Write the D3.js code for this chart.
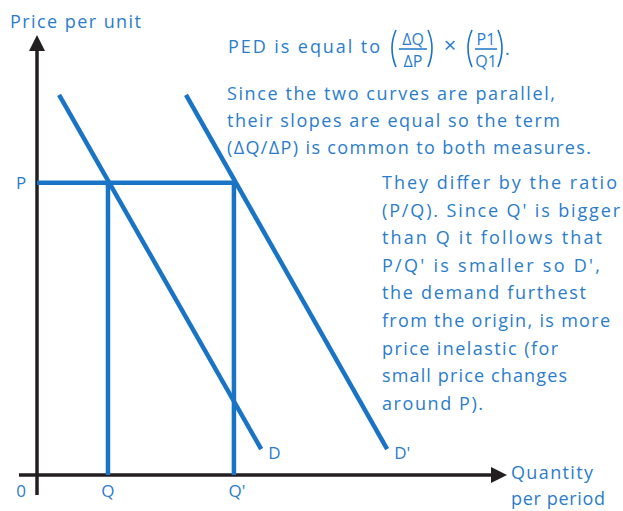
<!DOCTYPE html>
<html>
<head>
<meta charset="utf-8">
<script src="https://cdn.jsdelivr.net/npm/d3@7"></script>
<style>
  body { margin: 0; background: #fff; }
  svg text { font-family: "Open Sans", "DejaVu Sans", sans-serif; fill: #2a7dcc; }
</style>
</head>
<body>
<svg id="chart" width="623" height="511"></svg>
<script>
// demand curves, in chart units (quantity, price)
const curveNames = ['D', "D'"];
const curveD = [[4.7, 86.4], [47.7, 5.9]];
const curveD2 = [[31.7, 86.4], [74.5, 5.9]];
const priceP = 66.4;
const qtyValues = [15.1, 41.9];
const qtyLabels = ['Q', "Q'"];

const leftNotes = [
  'Since the two curves are parallel,',
  'their slopes are equal so the term',
  '(\u0394Q/\u0394P) is common to both measures.'
];
const leftEnds = [555, 560, 591];
const rightNotes = [
  'They differ by the ratio',
  "(P/Q). Since Q' is bigger",
  'than Q it follows that',
  "P/Q' is smaller so D',",
  'the demand furthest',
  'from the origin, is more',
  'price inelastic (for',
  'small price changes',
  'around P).'
];
const rightEnds = [617, 620, 602, 600, 586, 610, 558, 567, 483];

const blue = '#1a74c6';
const ink = '#231f20';

const svg = d3.select('#chart');
const x = d3.scaleLinear().domain([0, 100]).range([37, 507]);
const y = d3.scaleLinear().domain([0, 100]).range([475, 35]);

// axes with arrow heads
svg.append('line')
  .attr('x1', x(0)).attr('y1', y(0) + 20).attr('x2', x(0)).attr('y2', y(100) + 14)
  .attr('stroke', ink).attr('stroke-width', 3.5);
svg.append('path')
  .attr('d', `M${x(0)},${y(100)} L${x(0) - 8},${y(100) + 16} L${x(0) + 8},${y(100) + 16}Z`)
  .attr('fill', ink);
svg.append('line')
  .attr('x1', x(0) - 18).attr('y1', y(0)).attr('x2', x(100) - 14).attr('y2', y(0))
  .attr('stroke', ink).attr('stroke-width', 3.5);
svg.append('path')
  .attr('d', `M${x(100)},${y(0)} L${x(100) - 16},${y(0) - 8} L${x(100) - 16},${y(0) + 8}Z`)
  .attr('fill', ink);

// price P and quantities
const g = svg.append('g').attr('stroke', blue).attr('stroke-width', 4.5).attr('fill', 'none');
g.append('line')
  .attr('x1', x(0)).attr('x2', x(qtyValues[1])).attr('y1', y(priceP)).attr('y2', y(priceP));
g.selectAll('.qline')
  .data(qtyValues)
  .join('line')
  .attr('class', 'qline')
  .attr('x1', d => x(d)).attr('x2', d => x(d))
  .attr('y1', y(priceP)).attr('y2', y(0));

// the two demand curves
const line = d3.line().x(d => x(d[0])).y(d => y(d[1]));
g.selectAll('.curve')
  .data([curveD, curveD2])
  .join('path')
  .attr('class', 'curve')
  .attr('d', line);

// labels
const label = (tx, ty, t, size, anchor) => svg.append('text')
  .attr('x', tx).attr('y', ty).attr('font-size', size)
  .attr('text-anchor', anchor || 'start').text(t);

label(10, 28, 'Price per unit', 18).attr('textLength', 131);
label(21, 497, '0', 17, 'middle');
label(21, 189, 'P', 17, 'middle');
qtyLabels.forEach((t, i) => label(x(qtyValues[i]) + (i ? 3 : 0), 497, t, 17, 'middle'));
[curveD, curveD2].forEach((c, i) => label(x(c[1][0]) + 7, y(c[1][1]) + 10, curveNames[i], 17));
label(511, 479, 'Quantity', 18).attr('textLength', 82);
label(511, 505, 'per period', 18).attr('textLength', 94);

// PED formula
label(228, 53, 'PED is equal to', 18).attr('textLength', 152);
const paren = (px, open) => {
  const dx = open ? 1 : -1;
  svg.append('path')
    .attr('d', `M${px + 4 * dx},30 Q${px - 4 * dx},48 ${px + 4 * dx},67`)
    .attr('fill', 'none').attr('stroke', blue).attr('stroke-width', 1.6);
};
const frac = (cx, top, bottom, w) => {
  label(cx, 45, top, 16, 'middle');
  label(cx, 67, bottom, 16, 'middle');
  svg.append('line').attr('x1', cx - w / 2).attr('x2', cx + w / 2).attr('y1', 49).attr('y2', 49)
    .attr('stroke', blue).attr('stroke-width', 1.5);
};
paren(392, true);
frac(413, '\u0394Q', '\u0394P', 28);
paren(432, false);
label(450, 53, '\u00d7', 22, 'middle');
paren(468, true);
frac(486, 'P1', 'Q1', 22);
paren(502, false);
label(505, 55, '.', 18);

// notes
leftNotes.forEach((t, i) => label(227, 100 + i * 27, t, 18).attr('textLength', leftEnds[i] - 227));
rightNotes.forEach((t, i) => label(382, 189 + i * 27.6, t, 18).attr('textLength', rightEnds[i] - 382));
</script>
</body>
</html>
